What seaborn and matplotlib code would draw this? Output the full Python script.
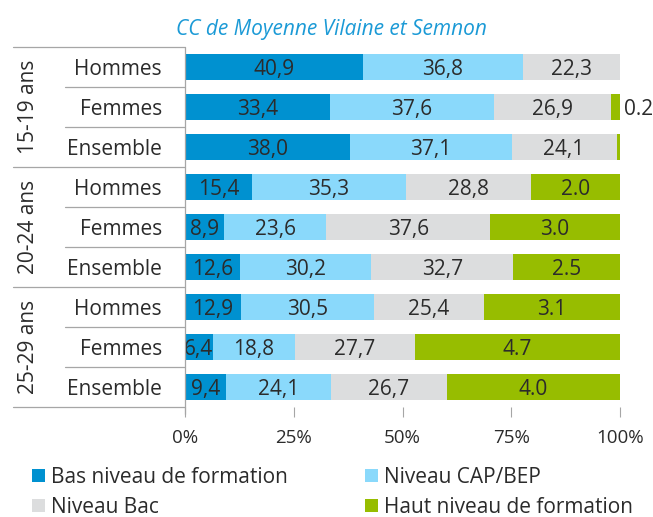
import matplotlib
matplotlib.use("Agg")
import matplotlib.pyplot as plt
import matplotlib.transforms as mtransforms
from matplotlib.patches import Rectangle
from matplotlib.lines import Line2D
import seaborn as sns
import pandas as pd

# ---------------- data ----------------
title = "CC de Moyenne Vilaine et Semnon"
groups = ["15-19 ans", "20-24 ans", "25-29 ans"]
sexes = ["Hommes", "Femmes", "Ensemble"]
bas = [40.9, 33.4, 38.0, 15.4, 8.9, 12.6, 12.9, 6.4, 9.4]
cap = [36.8, 37.6, 37.1, 35.3, 23.6, 30.2, 30.5, 18.8, 24.1]
bac = [22.3, 26.9, 24.1, 28.8, 37.6, 32.7, 25.4, 27.7, 26.7]
haut = [0.0, 2.1, 0.8, 20.5, 29.9, 24.5, 31.2, 47.1, 39.8]
haut_labels = ["", "0.2", "", "2.0", "3.0", "2.5", "3.1", "4.7", "4.0"]
series_names = ["Bas niveau de formation", "Niveau CAP/BEP", "Niveau Bac",
                "Haut niveau de formation"]
xticks = [0, 25, 50, 75, 100]
xticklabels = ["0%", "25%", "50%", "75%", "100%"]

colors = ["#0091d0", "#8ad9fb", "#dcddde", "#97bd00"]
txt_color = "#2b2b2b"
line_color = "#a6a6a6"

sns.set_style("white")
plt.rcParams["font.family"] = ["Open Sans", "DejaVu Sans"]

W, H = 653, 517
fig = plt.figure(figsize=(W / 100, H / 100), dpi=100)
ax = fig.add_axes([185 / W, 1 - 407 / H, 435 / W, 360 / H])

rows = [f"{g}|{s}" for g in groups for s in sexes]
df = pd.DataFrame({"row": rows, "bas": bas, "cap": cap, "bac": bac, "haut": haut})
df["c1"] = df["bas"]
df["c2"] = df["c1"] + df["cap"]
df["c3"] = df["c2"] + df["bac"]
df["c4"] = df["c3"] + df["haut"]

for col, colr in zip(["c4", "c3", "c2", "c1"], colors[::-1]):
    sns.barplot(data=df, x=col, y="row", order=rows, color=colr, saturation=1,
                width=0.67, linewidth=0, orient="h", ax=ax)

# small downward offset so caps are visually centred
down = mtransforms.ScaledTranslation(0, -1.5 / 72, fig.dpi_scale_trans)
tdata = ax.transData + down

fs = 15
for i in range(len(rows)):
    start = 0.0
    for vals in (bas, cap, bac):
        v = vals[i]
        ax.text(start + v / 2, i, f"{v:.1f}".replace(".", ","), ha="center",
                va="center", fontsize=fs, color=txt_color, transform=tdata)
        start += v
    lab = haut_labels[i]
    if lab:
        h = haut[i]
        if h < 5:
            ax.text(100.9, i, lab, ha="left", va="center", fontsize=fs, color=txt_color,
                    clip_on=False, transform=tdata)
        else:
            ax.text(start + h / 2, i, lab, ha="center", va="center", fontsize=fs,
                    color=txt_color, transform=tdata)

ax.set_xlim(0, 100)
ax.set_ylim(len(rows) - 0.5, -0.5)
ax.set_xticks(xticks)
ax.set_xticklabels(xticklabels)
ax.set_yticks([])
ax.set_xlabel("")
ax.set_ylabel("")
for sp in ax.spines.values():
    sp.set_visible(False)
ax.tick_params(axis="x", direction="out", length=7, width=0.8, color=line_color,
               labelsize=13.5, labelcolor=txt_color, pad=9, bottom=True)

# separators / frame lines
blend = mtransforms.blended_transform_factory(fig.transFigure, ax.transData)
for yb in [-0.5, 2.5, 5.5, 8.5]:
    fig.add_artist(Line2D([13 / W, 185 / W], [yb, yb], transform=blend,
                          color=line_color, lw=0.9))
for yb in [0.5, 1.5, 3.5, 4.5, 6.5, 7.5]:
    fig.add_artist(Line2D([65 / W, 185 / W], [yb, yb], transform=blend,
                          color=line_color, lw=0.9))
fig.add_artist(Line2D([185 / W, 185 / W], [1 - 47 / H, 1 - 414 / H],
                      transform=fig.transFigure, color=line_color, lw=0.9))

# row labels
blend_down = blend + down
for gi, g in enumerate(groups):
    fig.text(28 / W, gi * 3 + 1, g, transform=blend, rotation=90, ha="center",
             va="center", fontsize=15, color=txt_color)
for i, r in enumerate(rows):
    s = r.split("|")[1]
    fig.text(162 / W, i, s, transform=blend_down, ha="right", va="center", fontsize=15,
             color=txt_color)

# title
fig.text(331 / W, 1 - 27 / H, title, ha="center", va="center", fontsize=15,
         style="italic", color="#1b9ad6", transform=fig.transFigure + down)

# legend (manual)
leg_pos = [(32, 475), (365, 475), (32, 505), (365, 505)]
sq = 13
for (px, py), name, colr in zip(leg_pos, series_names, colors):
    fig.add_artist(Rectangle((px / W, 1 - (py + sq / 2) / H), sq / W, sq / H,
                             transform=fig.transFigure, facecolor=colr, edgecolor="none"))
    fig.text((px + sq + 6) / W, 1 - py / H, name, ha="left", va="center",
             fontsize=15, color=txt_color, transform=fig.transFigure + down)

fig.savefig("out.png", dpi=100)
